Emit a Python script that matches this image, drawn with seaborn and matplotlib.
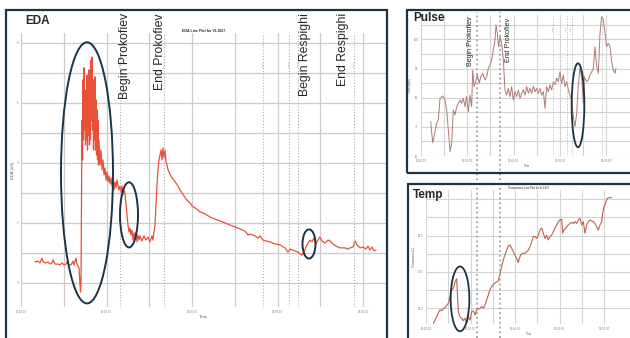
import matplotlib
matplotlib.use("Agg")
import matplotlib.pyplot as plt
import seaborn as sns
import pandas as pd
import numpy as np
from matplotlib.patches import Ellipse, Rectangle
from matplotlib.lines import Line2D

# ---- EDA (time index, EDA value) ----
eda_time = [14, 17, 19, 21, 22, 25, 27, 29, 31, 32, 34, 37, 39, 41, 43, 45, 46, 48, 50, 52,
            53, 55, 56, 57, 58, 59, 59.5, 60, 60.5, 61, 61.5, 62, 62.5, 63, 63.5, 64, 64.5, 65,
            65.5, 66, 66.5, 67, 67.5, 68, 68.5, 69, 69.5, 70, 70.5, 71, 71.5, 72, 72.5, 73,
            73.5, 74, 74.5, 75, 75.5, 76, 76.5, 77, 77.5, 78, 79, 80, 81, 82, 83, 84, 85, 86,
            87, 88, 89, 90, 91, 92, 93, 94, 95, 96, 97, 98, 99, 100, 101, 102, 103, 104, 105,
            106, 107, 108, 109, 110, 111, 112, 113, 114, 115, 116, 117, 118, 119, 121, 123,
            125, 127, 129, 131, 132, 133, 134, 135, 136, 137, 138, 139, 140, 141, 142, 143,
            144, 145, 146, 147, 149, 151, 153, 155, 157, 159, 161, 163, 165, 167, 169, 171,
            174, 177, 179, 184, 189, 194, 199, 204, 209, 214, 219, 224, 227, 229, 234, 237,
            239, 242, 245, 249, 254, 259, 264, 267, 269, 274, 277, 281, 283, 285, 287, 289,
            291, 293, 295, 297, 299, 301, 304, 307, 309, 312, 315, 319, 324, 327, 329, 332,
            334, 336, 339, 342, 345, 347, 349, 351, 353, 355]
eda_value = [7.0, 7.3, 6.7, 8.3, 7.0, 6.7, 7.0, 6.3, 6.7, 7.7, 6.3, 6.3, 6.0, 6.7, 6.0, 6.3,
             7.0, 6.0, 6.0, 7.3, 6.0, 8.3, 6.3, 5.7, 5.0, -0.7, -3.0, 1.0, 27.7, 54.3, 41.0,
             67.7, 47.7, 71.7, 51.0, 61.0, 46.0, 64.3, 47.7, 69.3, 44.3, 61.0, 49.3, 71.0,
             46.0, 62.7, 47.7, 74.3, 54.3, 75.3, 51.0, 67.7, 44.3, 64.3, 47.7, 68.7, 44.3,
             61.0, 42.7, 57.7, 41.0, 54.3, 39.3, 47.7, 39.3, 44.3, 37.7, 41.0, 36.0, 38.3,
             34.3, 37.0, 33.7, 35.7, 33.0, 35.0, 32.3, 34.3, 31.0, 33.7, 31.7, 34.3, 32.7,
             31.0, 32.3, 30.3, 32.3, 29.3, 31.0, 29.7, 26.0, 22.7, 19.3, 17.0, 18.3, 16.0,
             17.7, 14.3, 16.7, 15.0, 17.0, 13.7, 16.0, 14.3, 15.7, 14.0, 15.7, 14.3, 15.3,
             13.7, 15.7, 14.3, 17.0, 19.3, 26.0, 32.7, 37.7, 41.0, 42.7, 44.3, 41.0, 45.0,
             41.7, 44.3, 40.3, 39.3, 37.7, 36.3, 35.0, 34.3, 33.3, 32.3, 31.0, 30.0, 29.0,
             28.0, 27.3, 26.7, 25.7, 25.0, 24.3, 23.7, 23.0, 22.0, 21.3, 20.7, 20.0, 19.3,
             18.7, 18.0, 17.3, 16.0, 16.3, 15.7, 15.0, 15.7, 14.3, 14.0, 13.7, 13.0, 12.7,
             11.7, 10.3, 11.3, 10.7, 10.3, 9.3, 10.0, 12.0, 13.3, 14.3, 13.7, 15.0, 13.0,
             14.3, 15.3, 14.0, 13.3, 14.3, 14.0, 13.0, 12.3, 11.7, 11.7, 11.3, 11.7, 12.0,
             14.0, 12.7, 11.7, 12.0, 11.3, 12.3, 11.0, 12.0, 10.7, 11.0]
eda_markers = [99, 143, 242, 268, 277, 333]

# ---- Pulse ----
pulse_time = [92, 98, 105, 110, 115, 120, 128, 135, 140, 145, 150, 155, 160, 165, 170, 175,
              180, 185, 190, 195, 200, 205, 210, 215, 218, 222, 228, 232, 238, 242, 248, 255,
              260, 265, 270, 275, 280, 285, 288, 292, 296, 300, 305, 310, 315, 320, 325, 330,
              335, 340, 345, 350, 355, 360, 365, 370, 375, 380, 385, 390, 395, 400, 405, 410,
              415, 420, 425, 430, 435, 440, 445, 450, 455, 460, 465, 470, 475, 480, 485, 490,
              495, 500, 505, 510, 515, 520, 525, 530, 535, 540, 545, 550, 553, 560, 565, 570,
              575, 580, 585, 590, 595, 600, 605, 610, 615, 620, 625, 630, 635, 640, 645, 648]
pulse_bpm = [71.8, 64.6, 68.4, 71.4, 72.4, 79.8, 80.6, 79.2, 75.8, 68.9, 61.5, 64.3, 75.8,
             74.1, 76.9, 78.1, 79.2, 78.1, 79.8, 76.9, 80.4, 75.2, 80.9, 76.9, 89.5, 83.8,
             86.1, 87.8, 84.9, 87.2, 88.4, 86.1, 87.2, 90.1, 91.2, 93.0, 96.4, 99.8, 105.0,
             102.1, 97.5, 101.0, 98.7, 93.0, 82.7, 80.9, 83.2, 80.4, 83.8, 79.2, 82.1, 80.4,
             82.7, 79.8, 81.5, 82.7, 80.9, 83.8, 81.5, 83.2, 81.5, 84.0, 82.1, 83.2, 81.5,
             83.2, 80.9, 82.1, 76.4, 83.8, 82.1, 84.4, 82.7, 85.5, 84.4, 86.7, 85.5, 88.9,
             84.9, 87.8, 83.8, 85.5, 82.7, 80.9, 79.2, 73.5, 70.1, 74.6, 84.4, 90.1, 87.2,
             78.1, 87.2, 85.5, 86.1, 87.8, 88.9, 90.1, 97.5, 90.7, 88.4, 102.1, 107.8, 106.7,
             102.1, 97.5, 98.7, 97.5, 92.4, 89.5, 88.4, 90.1]
pulse_markers = [460, 500, 515, 605]

# ---- Temp ----
temp_time = [100, 105, 110, 115, 120, 125, 130, 135, 140, 145, 150, 155, 160, 165, 168, 170,
             172, 175, 180, 185, 190, 195, 200, 205, 210, 215, 220, 225, 230, 240, 245, 250,
             255, 260, 265, 270, 275, 280, 285, 290, 295, 300, 305, 310, 315, 320, 325, 330,
             335, 340, 345, 350, 355, 358, 362, 368, 375, 380, 385, 390, 395, 400, 405, 410,
             415, 420, 425, 430, 435, 440, 445, 450, 455, 460, 465, 470, 475, 480, 485, 488,
             492, 500, 505, 510, 515, 520, 525, 530, 535, 540, 545, 550, 555, 560, 565, 570,
             575, 580, 585, 590, 595, 600, 605, 608, 612, 615, 618, 622, 628, 635]
temp_deg = [30.09, 30.18, 30.27, 30.37, 30.46, 30.43, 30.50, 30.52, 30.58, 30.64, 30.82,
            31.01, 31.05, 31.23, 31.28, 31.31, 30.96, 30.41, 30.27, 30.23, 30.16, 30.23,
            30.09, 30.27, 30.18, 30.41, 30.43, 30.32, 30.46, 30.50, 30.55, 30.50, 30.59,
            30.73, 30.87, 31.01, 31.10, 31.16, 31.19, 31.23, 31.25, 31.46, 31.65, 31.83,
            31.97, 32.10, 32.22, 32.24, 32.15, 32.06, 31.95, 31.87, 31.76, 31.87, 31.97,
            32.01, 32.01, 32.06, 32.10, 32.19, 32.33, 32.47, 32.47, 32.42, 32.51, 32.65,
            32.71, 32.56, 32.42, 32.51, 32.38, 32.47, 32.51, 32.61, 32.70, 32.79, 32.88,
            32.93, 32.95, 32.56, 32.65, 32.74, 32.79, 32.83, 32.86, 32.83, 32.88, 32.83,
            32.93, 32.97, 32.79, 32.88, 32.56, 32.79, 32.88, 32.93, 32.90, 32.88, 32.83,
            32.74, 32.65, 32.79, 32.88, 33.11, 33.29, 33.34, 33.43, 33.52, 33.54, 33.54]

events = ["Begin Prokofiev", "End Prokofiev", "Begin Respighi", "End Respighi"]
time_labels = ["13:20:00", "13:30:00", "13:40:00", "13:50:00", "14:00:00"]

NAVY = "#1c3344"
GRID = "#d4d4d4"
W, H = 630, 338

sns.set_style("white")
plt.rcParams["font.family"] = ["Liberation Sans", "DejaVu Sans"]

fig = plt.figure(figsize=(W / 100, H / 100), dpi=100)


def px_axes(x0, y0, x1, y1):
    return fig.add_axes([x0 / W, 1 - y1 / H, (x1 - x0) / W, (y1 - y0) / H])


def style_axes(ax, xgrid, ygrid, xlab_every=2, ylab_every=2, ylabels=None):
    ax.set_xticks(xgrid)
    ax.set_yticks(ygrid)
    ax.set_xticklabels([time_labels[i // xlab_every] if i % xlab_every == 0 else ""
                        for i in range(len(xgrid))])
    if ylabels is None:
        ylabels = [f"{v:g}" for v in ygrid]
    ax.set_yticklabels([ylabels[i] if i % ylab_every == 0 else "" for i in range(len(ygrid))])
    ax.tick_params(length=0, labelsize=2, colors="#777777", pad=2)
    ax.grid(True, color=GRID, lw=0.8)
    for s in ax.spines.values():
        s.set_visible(False)
    ax.set_facecolor("none")


# frames around each panel
for (x0, y0, x1, y1) in [(6, 10, 387, 345), (407, 10, 636, 173), (408, 184, 636, 345)]:
    fig.patches.append(Rectangle((x0 / W, 1 - y1 / H), (x1 - x0) / W, (y1 - y0) / H,
                                 transform=fig.transFigure, fill=False,
                                 edgecolor=NAVY, lw=1.6, zorder=5))

# ---------- EDA ----------
ax = px_axes(21, 33, 386, 307)
eda = pd.DataFrame({"Time": eda_time, "EDA": eda_value})
sns.lineplot(data=eda, x="Time", y="EDA", ax=ax, color="#e8503a", lw=0.9,
             sort=False, estimator=None)
ax.set_xlim(0, 365)
ax.set_ylim(-8, 83.3)
style_axes(ax, np.arange(0, 365, 42.75), np.arange(0, 90, 10),
           ylabels=["0", "", "2", "", "4", "", "6", "", "8"])
ax.grid(True, color="#cccccc", lw=0.9)
for t in eda_markers:
    ax.axvline(t, color="#aaaaaa", ls=":", lw=0.8)
    ax.text(t, 73, "marker", rotation=90, fontsize=1.5, color="#999999",
            ha="center", va="center")
ax.set_xlabel("Time", fontsize=3, color="#555555", labelpad=1)
ax.set_ylabel("EDA (uS)", fontsize=3, color="#555555", labelpad=1)
ax.set_title("EDA Line Plot for VL1827", fontsize=2.6, fontweight="bold", pad=1)
for (c, w, h) in [((66, 36.7), 52, 87), ((108, 22.7), 18, 21.7), ((288, 13), 13, 9.7)]:
    ax.add_patch(Ellipse(c, w, h, fill=False, edgecolor=NAVY, lw=1.4, clip_on=False, zorder=6))

fig.text(25 / W, 1 - 21.5 / H, "EDA", fontsize=8.5, fontweight="bold", va="center")
for x, label in zip([125, 160, 305, 343], events):
    fig.text(x / W, 1 - 13 / H, label, rotation=90, fontsize=8.8, ha="center", va="top")

# ---------- Pulse ----------
ax = px_axes(421, 15, 632, 156)
pulse = pd.DataFrame({"Time": pulse_time, "Pulse": pulse_bpm})
sns.lineplot(data=pulse, x="Time", y="Pulse", ax=ax, color="#b07a74", lw=0.7,
             sort=False, estimator=None)
ax.set_xlim(63, 696)
ax.set_ylim(60, 108.4)
style_axes(ax, 63 + 69.4 * np.arange(9), np.arange(60, 106, 5))
for t in pulse_markers:
    ax.axvline(t, color="#b5b5b5", ls=":", lw=0.7)
    ax.text(t, 104, "marker", rotation=90, fontsize=1.3, color="#999999",
            ha="center", va="center")
ax.set_xlabel("Time", fontsize=2, color="#555555", labelpad=1)
ax.set_ylabel("Pulse (bpm)", fontsize=2, color="#555555", labelpad=1)
ax.add_patch(Ellipse((534, 77.4), 38, 28.8, fill=False, edgecolor=NAVY, lw=1.3,
                     clip_on=False, zorder=6))
fig.text(413 / W, 1 - 18 / H, "Pulse", fontsize=8.5, fontweight="bold", va="center")
fig.text(470 / W, 1 - 17 / H, events[0], rotation=90, fontsize=5, ha="center", va="top")
fig.text(508 / W, 1 - 18 / H, events[1], rotation=90, fontsize=5, ha="center", va="top")

# ---------- Temp ----------
ax = px_axes(426, 190, 632, 324)
temp = pd.DataFrame({"Time": temp_time, "Temp": temp_deg})
sns.lineplot(data=temp, x="Time", y="Temp", ax=ax, color="#c0604f", lw=0.8,
             sort=False, estimator=None)
ax.set_xlim(78, 696)
ax.set_ylim(30.07, 33.75)
style_axes(ax, 78 + 66.8 * np.arange(9), np.arange(30.5, 33.6, 0.5),
           ylabels=["30.5", "", "31.5", "", "32.5", "", ""])
ax.set_xlabel("Time", fontsize=2, color="#555555", labelpad=1)
ax.set_ylabel("Temperature (C)", fontsize=2, color="#555555", labelpad=1)
ax.set_title("Temperature Line Plot for VL1827", fontsize=2, pad=1)
ax.add_patch(Ellipse((180, 30.76), 56, 1.78, fill=False, edgecolor=NAVY, lw=1.3,
                     clip_on=False, zorder=6))
fig.text(413 / W, 1 - 195 / H, "Temp", fontsize=8.5, fontweight="bold", va="center")

# dotted Prokofiev markers running down the right-hand panels
for x in [477, 500]:
    fig.lines.append(Line2D([x / W, x / W], [0, 1 - 12 / H], transform=fig.transFigure,
                            color="#a0a0a0", ls=":", lw=1.3, zorder=4))

fig.savefig("out.png", dpi=100)
